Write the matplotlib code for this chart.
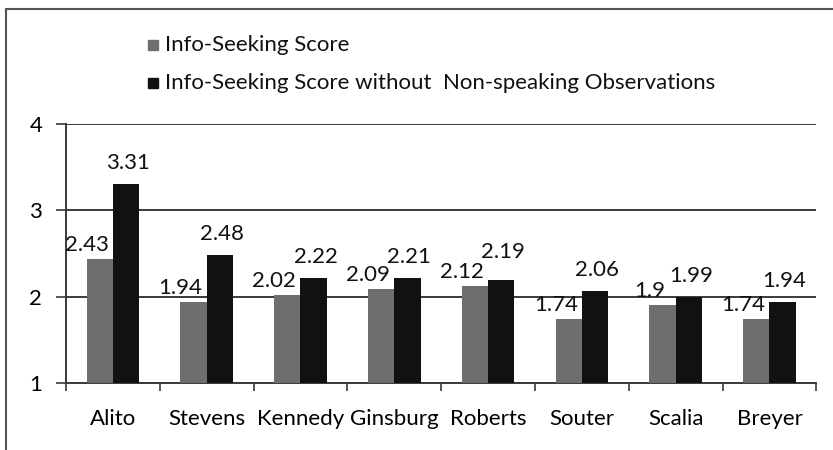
import matplotlib.pyplot as plt
import numpy as np
from matplotlib.patches import Rectangle

justices = ['Alito', 'Stevens', 'Kennedy', 'Ginsburg', 'Roberts', 'Souter', 'Scalia', 'Breyer']
info_score = [2.43, 1.94, 2.02, 2.09, 2.12, 1.74, 1.90, 1.74]
info_score_speaking = [3.31, 2.48, 2.22, 2.21, 2.19, 2.06, 1.99, 1.94]
labels_gray = ['2.43', '1.94', '2.02', '2.09', '2.12', '1.74', '1.9', '1.74']
labels_black = ['3.31', '2.48', '2.22', '2.21', '2.19', '2.06', '1.99', '1.94']

plt.rcParams['font.family'] = ['Lato', 'DejaVu Sans']

fig = plt.figure(figsize=(8.33, 4.5), dpi=100)
ax = fig.add_axes([0.0792, 0.149, 0.9008, 0.5756])

x = np.arange(len(justices))
w = 0.28
gray = '#6e6e6e'
black = '#111111'
fs = 16

ax.bar(x - w / 2, np.array(info_score) - 1, w, bottom=1, color=gray, zorder=3)
ax.bar(x + w / 2, np.array(info_score_speaking) - 1, w, bottom=1, color=black, zorder=3)

for xi, v, s in zip(x, info_score, labels_gray):
    ax.annotate(s, (xi - w / 2, v), xytext=(-13, 4), textcoords='offset pixels',
                ha='center', va='bottom', fontsize=fs, color='#111111', zorder=4)
for i, (xi, v, s) in enumerate(zip(x, info_score_speaking, labels_black)):
    dy = 18 if s == '2.19' else 11   # Roberts label was nudged up in the original
    ax.annotate(s, (xi + w / 2, v), xytext=(2, dy), textcoords='offset pixels',
                ha='center', va='bottom', fontsize=fs, color='#111111', zorder=4)

ax.set_ylim(1, 4)
ax.set_xlim(-0.5, len(justices) - 0.5)
ax.set_yticks([1, 2, 3, 4])
ax.set_yticklabels(['1', '2', '3', '4'], fontsize=fs)
ax.yaxis.grid(True, color='#3a3a3a', linewidth=1.4, zorder=1)
ax.tick_params(axis='y', length=7, width=1.2, color='#3a3a3a', pad=10)

# category labels centred, tick marks at category boundaries
ax.set_xticks(x)
ax.set_xticklabels(justices, fontsize=fs)
ax.tick_params(axis='x', length=0, pad=19)
ax.set_xticks(np.arange(-0.5, len(justices)), minor=True)
ax.tick_params(axis='x', which='minor', length=6, width=1.2, color='#3a3a3a')

for side in ['top', 'right']:
    ax.spines[side].set_visible(False)
for side in ['left', 'bottom']:
    ax.spines[side].set_color('#3a3a3a')
    ax.spines[side].set_linewidth(1.4)

# legend drawn by hand
leg = [(gray, 'Info-Seeking Score', 45), (black, 'Info-Seeking Score without  Non-speaking Observations', 83)]
for col, txt, ypix in leg:
    fy = 1 - ypix / 450
    fig.patches.append(Rectangle((148 / 833, fy - 5 / 450), 10 / 833, 10 / 450,
                                 transform=fig.transFigure, color=col))
    fig.text(165 / 833, fy, txt, fontsize=fs, va='center', ha='left', color='#111111')

# outer chart frame (cropped at right and bottom)
fig.patches.append(Rectangle((6 / 833, -0.02), 1.0, 1 - 9 / 450 + 0.02, transform=fig.transFigure,
                             fill=False, edgecolor='#555555', linewidth=1.5))

fig.savefig('out.png', dpi=100)
